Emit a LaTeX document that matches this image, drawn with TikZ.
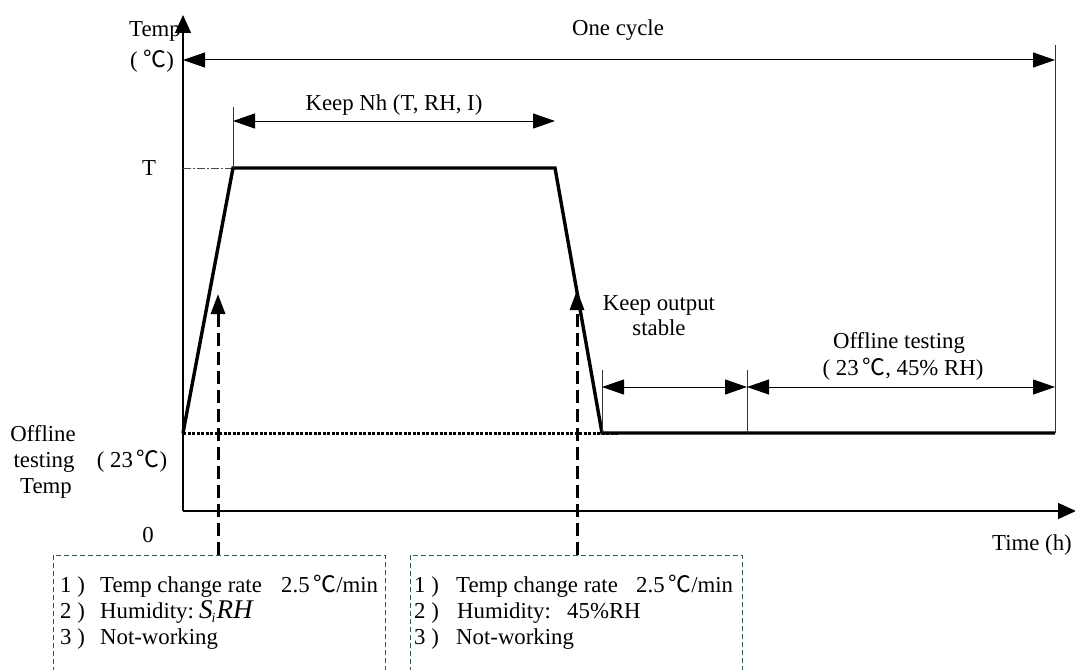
\documentclass[tikz,border=0pt]{standalone}
\usepackage{fontspec}
\setmainfont{Liberation Serif}
\newfontfamily\cjk{Noto Sans CJK SC}
\usetikzlibrary{arrows.meta}
\newcommand{\degC}{{\cjk ℃}}
\definecolor{boxgreen}{RGB}{50,95,65}
\begin{document}
\begin{tikzpicture}[x=1pt,y=-1pt,
  lbl/.style={font=\fontsize{22.8}{26}\selectfont, inner sep=0pt, anchor=base},
  lblw/.style={font=\fontsize{22.8}{26}\selectfont, inner sep=0pt, anchor=base west},
  axisline/.style={line width=1.3pt, -{Triangle[length=18pt,width=16pt]}},
  dimline/.style={line width=1pt, {Triangle[length=22pt,width=15pt]}-{Triangle[length=22pt,width=15pt]}},
  tickline/.style={line width=0.8pt, draw=black!80},
  profile/.style={line width=3.4pt, line join=miter},
  baseline dots/.style={line width=3pt, dash pattern=on 3pt off 1.5pt},
  dasharrow/.style={line width=3pt, dash pattern=on 13pt off 6pt, -{Triangle[length=20pt,width=14pt]}},
  notebox/.style={draw=boxgreen, line width=0.9pt, dash pattern=on 5pt off 3pt}
]
\useasboundingbox (0,0) rectangle (1075,669);
\clip (0,0) rectangle (1075,669);
\fill[white] (0,0) rectangle (1075,669);

% key coordinates
\coordinate (O) at (183,511);
\coordinate (ytop) at (183,15);
\coordinate (xend) at (1076,511);
\coordinate (p0) at (183,433);
\coordinate (p1) at (233,168);
\coordinate (p2) at (555,168);
\coordinate (p3) at (602,433);
\coordinate (p4) at (1055,433);
\coordinate (Tleft) at (183,168);

% axes
\draw[axisline] (O) -- (ytop);
\draw[axisline] (O) -- (xend);

% dotted guides
\draw[line width=0.8pt, draw=black!70, dash pattern=on 8pt off 2pt on 2pt off 2pt] (Tleft) -- (p1);
\coordinate (dotend) at (618,433);
\draw[baseline dots] (p0) -- (dotend);

% profile
\draw[profile] (p0) -- (p1) -- (p2) -- (p3) -- (p4);

% one cycle
\coordinate (ocL) at (183,60);
\coordinate (ocR) at (1055,60);
\coordinate (ocTickTop) at (1055,45);
\draw[tickline] (ocTickTop) -- (p4);
\draw[dimline] (ocL) -- (ocR);
\node[lbl] (onecycle) at (618,36) {One cycle};

% keep Nh
\coordinate (knTickTop) at (233,107);
\coordinate (knL) at (233,121);
\coordinate (knR) at (555,121);
\draw[tickline] (knTickTop) -- (p1);
\draw[dimline] (knL) -- (knR);
\node[lbl] (keepnh) at (394,110) {Keep Nh (T, RH, I)};

% keep output stable / offline testing
\coordinate (t1top) at (602,370);
\coordinate (t2top) at (747,370);
\coordinate (t2bot) at (747,433);
\draw[tickline] (t1top) -- (p3);
\draw[tickline] (t2top) -- (t2bot);
\coordinate (ks1) at (602,387);
\coordinate (ks2) at (747,387);
\coordinate (ks3) at (1055,387);
\draw[dimline] (ks1) -- (ks2);
\draw[dimline] (ks2) -- (ks3);
\node[lbl] (keepout1) at (659,310) {Keep output};
\node[lbl] (keepout2) at (659,335) {stable};
\node[lbl] (offl1) at (899,348) {Offline testing};
\node[lbl] (offl2) at (903,375) {( 23\,\degC, 45\% RH)};

% axis labels
\node[lbl] (templbl) at (155,37) {Temp};
\node[lbl] (unitlbl) at (152,67) {( \degC)};
\node[lbl] (Tlbl) at (149,175) {T};
\node[lbl] (off1) at (43,441) {Offline};
\node[lbl] (off2) at (44,467) {testing};
\node[lbl] (off3) at (46,493) {Temp};
\node[lbl] (t23) at (132,467) {( 23\,\degC)};
\node[lbl] (zero) at (148,542) {0};
\node[lbl] (timelbl) at (1032,550) {Time (h)};

% note boxes
\draw[notebox] (53,680) -- (53,555) -- (385,555) -- (385,680);
\draw[notebox] (410,680) -- (410,555) -- (742,555) -- (742,680);
\coordinate (b1top) at (218,555);
\coordinate (b2top) at (577,555);
\coordinate (a1tip) at (218,294);
\coordinate (a2tip) at (577,290);
\draw[dasharrow] (b1top) -- (a1tip);
\draw[dasharrow] (b2top) -- (a2tip);

% box 1 text
\node[lblw] (b1n1) at (60,592) {1 )};
\node[lblw] (b1l1) at (100,592) {Temp change rate};
\node[lblw] (b1v1) at (281,592) {2.5\,\degC/min};
\node[lblw] (b1n2) at (60,618) {2 )};
\node[lblw] (b1l2) at (100,618) {Humidity:};
\node[lblw, font=\fontsize{27}{30}\selectfont\itshape] (b1v2) at (199,618) {S\kern-1pt\raisebox{-4pt}{\fontsize{14}{15}\selectfont i}\kern1pt RH};
\node[lblw] (b1n3) at (60,644) {3 )};
\node[lblw] (b1l3) at (100,644) {Not-working};

% box 2 text
\node[lblw] (b2n1) at (414,592) {1 )};
\node[lblw] (b2l1) at (456,592) {Temp change rate};
\node[lblw] (b2v1) at (636,592) {2.5\,\degC/min};
\node[lblw] (b2n2) at (414,618) {2 )};
\node[lblw] (b2l2) at (457,618) {Humidity:};
\node[lblw] (b2v2) at (567,618) {45\%RH};
\node[lblw] (b2n3) at (414,644) {3 )};
\node[lblw] (b2l3) at (456,644) {Not-working};
\end{tikzpicture}
\end{document}
